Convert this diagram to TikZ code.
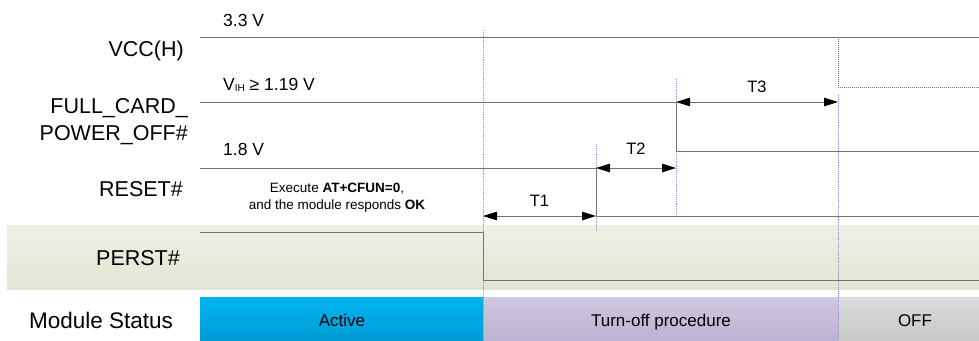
\documentclass[tikz,border=0pt]{standalone}
\usepackage{fontspec}
\setmainfont{Liberation Sans}
\usetikzlibrary{positioning,calc,arrows.meta}
\tikzset{>={Triangle[length=14pt,width=8.5pt,color=black]}}
\definecolor{sigline}{HTML}{737373}
\definecolor{tickblue}{HTML}{8A8AE8}
\newcommand*{\sigfont}{\fontsize{21.5}{24}\selectfont}
\newcommand*{\vfont}{\fontsize{17.5}{20}\selectfont}
\tikzset{
  sig/.style={draw=sigline,line width=1pt},
  tick/.style={draw=tickblue,line width=0.9pt,densely dotted},
  dim/.style={sig,<->},
  siglabel/.style={font=\sigfont,anchor=base east,inner sep=0pt},
  vlabel/.style={font=\vfont,anchor=base west,inner sep=0pt},
  tlabel/.style={font=\fontsize{16.5}{18}\selectfont,anchor=base,inner sep=0pt},
  statlabel/.style={font=\fontsize{17}{19}\selectfont,anchor=base,inner sep=0pt}
}

\begin{document}
\begin{tikzpicture}[x=1pt,y=-1pt]
\useasboundingbox (0,0) rectangle (979,340);
% transition instants
\coordinate (Pf) at (483,0);
\coordinate (Rf) at (596,0);
\coordinate (Ff) at (676,0);
\coordinate (Vf) at (838,0);
% PERST# band and status bar
\shade[top color={rgb,255:red,238;green,240;blue,230},bottom color={rgb,255:red,225;green,230;blue,210}] (7,225) rectangle (979,289);
\shade[top color={rgb,255:red,0;green,181;blue,239},bottom color={rgb,255:red,0;green,156;blue,214}] (200,297) rectangle (Pf |- 0,340);
\shade[top color={rgb,255:red,208;green,200;blue,224},bottom color={rgb,255:red,188;green,178;blue,210}] (Pf |- 0,297) rectangle (Vf |- 0,340);
\shade[top color={rgb,255:red,220;green,220;blue,220},bottom color={rgb,255:red,200;green,200;blue,200}] (Vf |- 0,297) rectangle (979,340);
% marker lines
\draw[tick] (Pf |- 0,30) -- (Pf |- 0,340);
\draw[tick] (Rf |- 0,144) -- (Rf |- 0,230);
\draw[tick] (Ff |- 0,79) -- (Ff |- 0,215);
\draw[tick] (Vf |- 0,95) -- (Vf |- 0,340);
% signals
\draw[sig] (200,37) -- (979,37);
\draw[sig,densely dotted,line width=0.7pt] (Vf |- 0,37) -- (Vf |- 0,87) -- (979,87);
\draw[sig] (200,102) -- (Ff |- 0,102) -- (Ff |- 0,151) -- (979,151);
\draw[sig] (200,168) -- (Rf |- 0,168) -- (Rf |- 0,216) -- (979,216);
\draw[sig] (200,232) -- (Pf |- 0,232) -- (Pf |- 0,280) -- (979,280);
% timings
\draw[dim] (Ff |- 0,102) -- node[tlabel,above=8.5pt] (t3) {T3} (Vf |- 0,102);
\draw[dim] (Rf |- 0,168) -- node[tlabel,above=13pt] (t2) {T2} (Ff |- 0,168);
\draw[dim] (Pf |- 0,216) -- node[tlabel,above=9.3pt] (t1) {T1} (Rf |- 0,216);
% labels
\node[siglabel] (vcc) at (184,56.5) {VCC(H)};
\node[siglabel] (fcp) at (188,113) {FULL\_CARD\_};
\node[siglabel] (fcpb) at (188,140) {POWER\_OFF\#};
\node[siglabel] (rst) at (183,196) {RESET\#};
\node[siglabel] (prst) at (180,265) {PERST\#};
\node[font=\fontsize{22.5}{25}\selectfont,anchor=base west,inner sep=0pt] (mst) at (29,328) {Module Status};
\node[vlabel] (v33) at (223,26.7) {3.3 V};
\node[vlabel] (vih) at (223,90) {V\raisebox{-1.5pt}{\fontsize{10}{10}\selectfont IH} ≥ 1.19 V};
\node[vlabel] (v18) at (223,155) {1.8 V};
\node[font=\fontsize{13.5}{16.3}\selectfont,align=center,anchor=base,inner sep=0pt] (cmd) at (337,209)
  {Execute \textbf{AT+CFUN=0},\\and the module responds \textbf{OK}};
\node[statlabel] (act) at (342,326.7) {Active};
\node[statlabel] (tof) at (661,326.7) {Turn-off procedure};
\node[statlabel] (off) at (915,326.7) {OFF};
\end{tikzpicture}
\end{document}
